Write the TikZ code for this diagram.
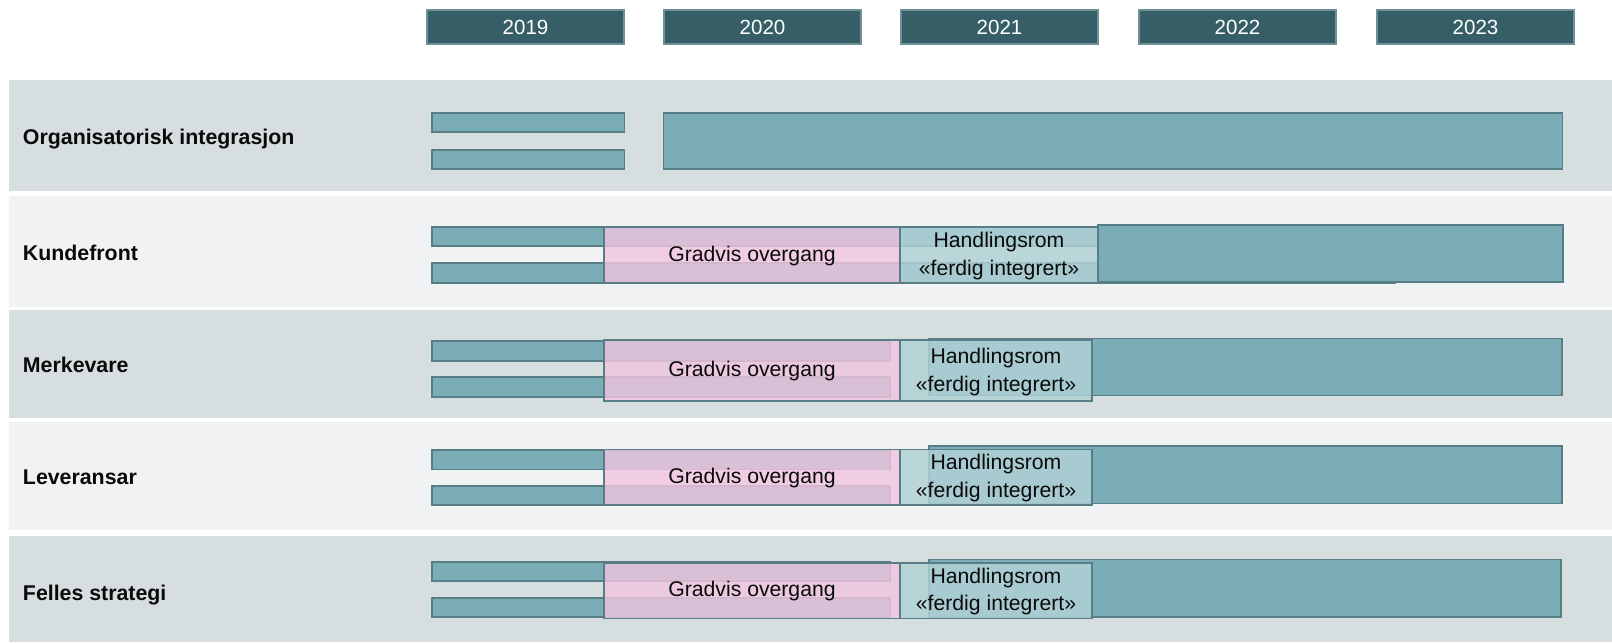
\documentclass[tikz,border=0pt]{standalone}
\usepackage{fontspec}
\setmainfont{Liberation Sans}

\definecolor{banddark}{HTML}{D6DEE0}
\definecolor{bandlight}{HTML}{F1F2F4}
\definecolor{yearfill}{HTML}{365E66}
\definecolor{yearedge}{HTML}{6E9197}
\definecolor{barfill}{HTML}{7AADB6}
\definecolor{baredge}{HTML}{577E84}
\definecolor{pinkfill}{RGB}{240,197,223}
\definecolor{handfill}{RGB}{176,209,213}
\definecolor{inktext}{HTML}{0A0A0A}

\begin{document}
\begin{tikzpicture}[x=0.75pt,y=-0.75pt,
    yearbox/.style={fill=yearfill, draw=yearedge, line width=1.5pt, text=white,
        minimum width=148pt, minimum height=26pt, inner sep=0pt,
        font=\fontsize{15.4}{18}\selectfont},
    rowname/.style={anchor=west, text=inktext, inner sep=0pt,
        font=\fontsize{16}{19}\selectfont\bfseries},
    bar/.style={fill=barfill, draw=baredge, line width=1.2pt},
    overgang/.style={fill=pinkfill, fill opacity=0.82, draw=baredge, line width=1.2pt},
    handling/.style={fill=handfill, fill opacity=0.84, draw=baredge, line width=1.2pt},
    phasetext/.style={text=inktext, align=center, inner sep=0pt,
        font=\fontsize{15.9}{20.6}\selectfont}]
    \useasboundingbox (0,0) rectangle (1612,642);

    % year header
    \node[yearbox] (y2019) at (525.5,27) {2019};
    \node[yearbox] (y2020) at (762.5,27) {2020};
    \node[yearbox] (y2021) at (999.5,27) {2021};
    \node[yearbox] (y2022) at (1237.5,27) {2022};
    \node[yearbox] (y2023) at (1475.5,27) {2023};

    % row bands
    \fill[banddark]  (9,80)  rectangle (1612,191);
    \fill[bandlight] (9,196) rectangle (1612,307);
    \fill[banddark]  (9,310) rectangle (1612,418);
    \fill[bandlight] (9,422) rectangle (1612,530);
    \fill[banddark]  (9,536) rectangle (1612,642);

    \node[rowname] (organisasjon) at (22.7,139) {Organisatorisk integrasjon};
    \node[rowname] (kunde) at (22.7,252.5) {Kundefront};
    \node[rowname] (merke) at (22.7,365) {Merkevare};
    \node[rowname] (leveranse) at (22.7,477) {Leveransar};
    \node[rowname] (strategi) at (22.7,595) {Felles strategi};

    % Organisatorisk integrasjon
    \draw[bar] (432,113) rectangle (624.5,132);
    \draw[bar] (432,150) rectangle (624.5,169);
    \draw[bar] (663.5,113) rectangle (1562.5,169);

    % Kundefront
    \draw[bar] (432,227) rectangle (1395,246);
    \draw[bar] (432,263) rectangle (1395,283);
    \draw[overgang] (604,227.5) rectangle (900,282.5);
    \draw[handling] (900,227.5) rectangle (1098,282.5);
    \draw[bar] (1098,225) rectangle (1563,282);
    \node[phasetext] (gradvis2) at (752,256) {Gradvis overgang};
    \node[phasetext] (rom2) at (999,256) {Handlingsrom\\«ferdig integrert»};

    % Merkevare
    \draw[bar] (432,341) rectangle (890,361);
    \draw[bar] (432,377) rectangle (890,397);
    \draw[bar] (929,338.5) rectangle (1562,395.5);
    \draw[overgang] (604,340) rectangle (900,401);
    \draw[handling] (900,340) rectangle (1092,401);
    \node[phasetext] (gradvis3) at (752,371) {Gradvis overgang};
    \node[phasetext] (rom3) at (996,372) {Handlingsrom\\«ferdig integrert»};

    % Leveransar
    \draw[bar] (432,450) rectangle (890,469.5);
    \draw[bar] (432,486) rectangle (890,505);
    \draw[bar] (929,446) rectangle (1562,503.5);
    \draw[overgang] (604,449.5) rectangle (900,505);
    \draw[handling] (900,449.5) rectangle (1092,505);
    \node[phasetext] (gradvis4) at (752,478) {Gradvis overgang};
    \node[phasetext] (rom4) at (996,478) {Handlingsrom\\«ferdig integrert»};

    % Felles strategi
    \draw[bar] (432,562) rectangle (890,581);
    \draw[bar] (432,598) rectangle (890,617);
    \draw[bar] (929,559.5) rectangle (1561,617);
    \draw[overgang] (604,563) rectangle (900,618.5);
    \draw[handling] (900,563) rectangle (1092,618.5);
    \node[phasetext] (gradvis5) at (752,591.5) {Gradvis overgang};
    \node[phasetext] (rom5) at (996,591.5) {Handlingsrom\\«ferdig integrert»};
\end{tikzpicture}
\end{document}
